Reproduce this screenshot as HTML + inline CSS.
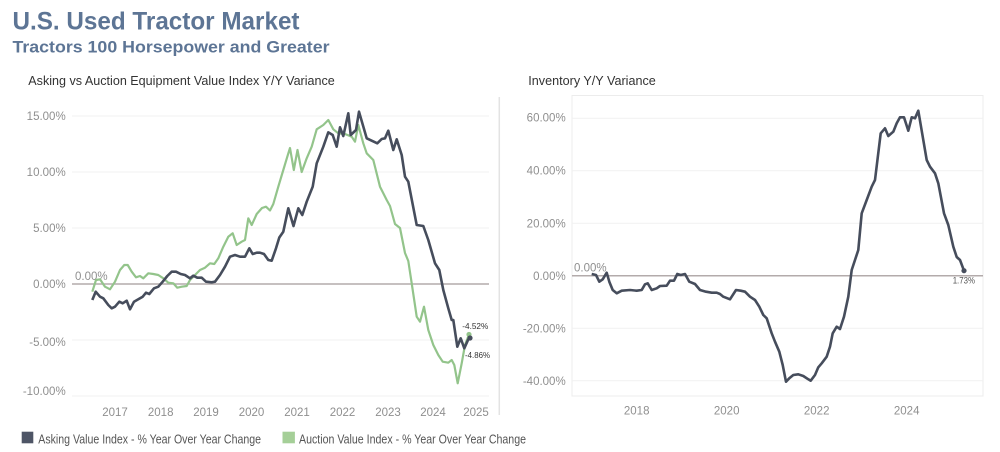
<!DOCTYPE html>
<html><head><meta charset="utf-8"><style>
html,body{margin:0;padding:0;background:#fff;}
svg{display:block;}
text{font-family:"Liberation Sans",Arial,sans-serif;}
</style></head><body>
<svg width="1000" height="452" viewBox="0 0 1000 452" xmlns="http://www.w3.org/2000/svg">
<rect width="1000" height="452" fill="#fff"/>
<!-- Titles -->
<text x="12.5" y="29.3" font-size="25" font-weight="bold" fill="#5d7595" textLength="287" lengthAdjust="spacingAndGlyphs">U.S. Used Tractor Market</text>
<text x="12.5" y="52.3" font-size="16.5" font-weight="bold" fill="#5d7595" textLength="317" lengthAdjust="spacingAndGlyphs">Tractors 100 Horsepower and Greater</text>
<text x="28.3" y="85" font-size="13" fill="#333" textLength="306.5" lengthAdjust="spacingAndGlyphs">Asking vs Auction Equipment Value Index Y/Y Variance</text>
<text x="528.3" y="85" font-size="13" fill="#333" textLength="127.5" lengthAdjust="spacingAndGlyphs">Inventory Y/Y Variance</text>

<!-- Left chart gridlines -->
<g stroke="#f1f1f1" stroke-width="1">
<line x1="72" y1="116" x2="489" y2="116"/>
<line x1="72" y1="172" x2="489" y2="172"/>
<line x1="72" y1="228" x2="489" y2="228"/>
<line x1="72" y1="340" x2="489" y2="340"/>
<line x1="72" y1="396" x2="489" y2="396"/>
</g>
<line x1="72" y1="284" x2="489" y2="284" stroke="#b3abab" stroke-width="1.5"/>

<!-- Left y labels -->
<g font-size="11.5" fill="#8f8f8f" text-anchor="end">
<text x="65.7" y="120">15.00%</text>
<text x="65.7" y="176">10.00%</text>
<text x="65.7" y="232">5.00%</text>
<text x="65.7" y="288">0.00%</text>
<text x="65.7" y="346">-5.00%</text>
<text x="65.7" y="395">-10.00%</text>
</g>
<!-- Left x labels -->
<g font-size="11.5" fill="#8f8f8f" text-anchor="middle">
<text x="115" y="416">2017</text>
<text x="160.7" y="416">2018</text>
<text x="206" y="416">2019</text>
<text x="251.5" y="416">2020</text>
<text x="297" y="416">2021</text>
<text x="342.5" y="416">2022</text>
<text x="388" y="416">2023</text>
<text x="433" y="416">2024</text>
<text x="476" y="416">2025</text>
</g>
<text x="75" y="280" font-size="11.5" fill="#8f8f8f">0.00%</text>

<!-- Auction (green) -->
<polyline fill="none" stroke="#93c48b" stroke-width="2.2" stroke-linejoin="round" points="92.3,291.7 96,280 100,279.3 105,286.7 110,289.3 115,281.7 120,270 124.3,265 127.7,265 131.7,271.7 136,277.3 140,276 143.3,278.3 148.3,273.3 153.3,274 158.3,275 163.3,278.3 168.3,282.7 173.3,283.3 177.3,287.7 181.7,286.7 186.7,286 190,280 195,275 200,270 205,267.7 210,263.3 214.3,264 218.3,258.3 223.3,246.7 228.3,236.7 232.7,233.3 236.7,245 241.7,241.7 245,240 248.3,218.3 251.7,225 256.7,214 262,208 266,206.7 270,210.5 273.3,204 278.3,186.7 283.3,170 287.3,156.7 290,148 293.8,170 297.5,150 301.7,172 306.7,158.3 311.7,146.7 316.7,129.3 323.3,125 328.3,120 333.3,129.3 338.3,133.3 345,134 351.7,136.7 355,141.7 358.3,125 363.3,143.3 366.7,153.3 373.3,160 380,186.7 386.7,200 390,206 395,224 400,228 405,253 408.3,261 411.7,283.3 416.7,316.7 420,321.7 424,306.7 428.3,330 433.3,345 438.3,355 442.7,361.7 448.3,362.7 451.7,360 454.3,365 457.7,383.3 461.7,363.3 465,345 469,334.5"/>
<!-- Asking (dark) -->
<polyline fill="none" stroke="#464d5c" stroke-width="2.6" stroke-linejoin="round" points="92.3,300 95.7,291.7 100,296.7 103.3,298.3 108.3,305 111.7,308.3 115,306.7 119.3,301.7 122.7,303.3 126.7,300.7 130,309.3 134,301.7 138.3,299.3 142.7,296.7 146,292.7 149.3,294 154,288.3 158.3,286.7 162.7,281.7 167.3,276 171.7,271.7 176,271.7 180.7,274 185,275 190,278.3 193.3,275.7 197.3,277.7 201.7,277.7 206,281.7 211.7,282.3 215,281.7 220,275 225,266.7 230,256.7 235,255 240,256.7 245,256.7 249.3,248.3 252.7,254 256.7,252.7 260,252.7 264,254 268.3,260 271.7,260.7 276,248.3 279.3,237.5 283.3,231.7 288.3,208.3 293.5,226 298.3,208.3 302.3,215 306.7,201.7 312.7,186.7 316.7,163.3 323.3,146.7 328.3,132.3 332.7,135 336.7,146.7 340,127.3 343.3,136 348.3,113.3 350.7,135 356,130 359,111.7 366.7,138.3 371.7,140.7 377.3,143.3 381.7,139 385,138.3 388.3,130.7 393.3,150 396.7,139.3 401.7,155 405,176.7 408.3,181.7 416.7,225 423.3,226 428.3,240 435,263.3 439.3,270 443.3,290 448.3,308.3 451.7,320 453.3,320 457.3,346.7 460.7,338.3 464.3,348.3 468.3,339.3 470,338"/>
<circle cx="469" cy="334.5" r="2.6" fill="#93c48b"/>
<circle cx="470" cy="338" r="2.6" fill="#464d5c"/>
<text x="462.3" y="329" font-size="8.5" fill="#333" textLength="26" lengthAdjust="spacingAndGlyphs">-4.52%</text>
<text x="465" y="358" font-size="8.5" fill="#333" textLength="25" lengthAdjust="spacingAndGlyphs">-4.86%</text>

<!-- Separator -->
<line x1="499.3" y1="97" x2="499.3" y2="415" stroke="#e3e3e3" stroke-width="1.5"/>

<!-- Right chart frame and gridlines -->
<rect x="572" y="95.5" width="411" height="300.5" fill="none" stroke="#ececec" stroke-width="1"/>
<g stroke="#f1f1f1" stroke-width="1">
<line x1="572" y1="118.2" x2="983" y2="118.2"/>
<line x1="572" y1="170.7" x2="983" y2="170.7"/>
<line x1="572" y1="223.2" x2="983" y2="223.2"/>
<line x1="572" y1="328.2" x2="983" y2="328.2"/>
<line x1="572" y1="380.7" x2="983" y2="380.7"/>
</g>
<line x1="572" y1="275.7" x2="983" y2="275.7" stroke="#b3abab" stroke-width="1.5"/>
<g font-size="11.5" fill="#8f8f8f" text-anchor="end">
<text x="565.7" y="121.7">60.00%</text>
<text x="565.7" y="174.7">40.00%</text>
<text x="565.7" y="227.3">20.00%</text>
<text x="565.7" y="280">0.00%</text>
<text x="565.7" y="332.3">-20.00%</text>
<text x="565.7" y="385">-40.00%</text>
</g>
<g font-size="11.5" fill="#8f8f8f" text-anchor="middle">
<text x="636.7" y="414.7">2018</text>
<text x="726.7" y="414.7">2020</text>
<text x="816.7" y="414.7">2022</text>
<text x="906.7" y="414.7">2024</text>
</g>
<text x="574" y="271.5" font-size="11.5" fill="#8f8f8f">0.00%</text>
<polyline fill="none" stroke="#464d5c" stroke-width="2.6" stroke-linejoin="round" points="591.7,274 596,275 599.3,281.7 602.7,279.3 606.7,272.7 609.3,281.7 612.7,290 616.7,293.3 621.7,290.7 630,290 636.7,290.7 641.7,290 645,284.3 647.7,283.3 651.7,290 656.7,288.3 660,286 666.7,285.7 670,280.7 674,280.7 677.3,274 680.7,275 685,274 689.3,281.7 695,284 700,290 706,291.7 711.7,292.7 716.7,292.7 720,294 723.3,296.7 730,299.3 736,290 740.7,290.7 745,291.7 750,296.7 755,300 759.3,306.7 763.3,315 766.7,318.3 771.7,333.3 775,341.7 779.3,351.7 782.7,365 786,381.7 789.3,378.3 793.3,375 798.3,374.3 803.3,376 808.3,379.3 810.7,380.7 815,375 818.3,367.3 821.7,363.3 826.7,356.7 830,346.7 832.7,333.3 836.7,326.7 840,329 844,316.7 848.3,296.7 851.7,270 855,260 858.3,250 861.7,213.3 866.7,200 871.7,186.7 875,180 880.7,133.3 885,128.3 888.3,136 893.3,131.7 896.7,123.3 900,117.3 904,117.3 908.3,130.7 911.7,117.3 915,118.3 918.3,110.7 926.7,160 930,166.7 935,173.3 938.3,183.3 944,213.3 948.3,225 953.3,246.7 956.7,257 960,260 964,270.7"/>
<circle cx="964" cy="270.7" r="2.6" fill="#464d5c"/>
<text x="952.7" y="283.5" font-size="9" fill="#555" textLength="22.3" lengthAdjust="spacingAndGlyphs">1.73%</text>

<!-- Legend -->
<rect x="21.7" y="431.7" width="11.6" height="11.6" fill="#4e5566"/>
<text x="38.3" y="443.5" font-size="12.5" fill="#555" textLength="222.7" lengthAdjust="spacingAndGlyphs">Asking Value Index - % Year Over Year Change</text>
<rect x="282.5" y="431.7" width="12.4" height="11.6" fill="#a5cf98"/>
<text x="299" y="443.5" font-size="12.5" fill="#555" textLength="227" lengthAdjust="spacingAndGlyphs">Auction Value Index - % Year Over Year Change</text>
</svg>
</body></html>
